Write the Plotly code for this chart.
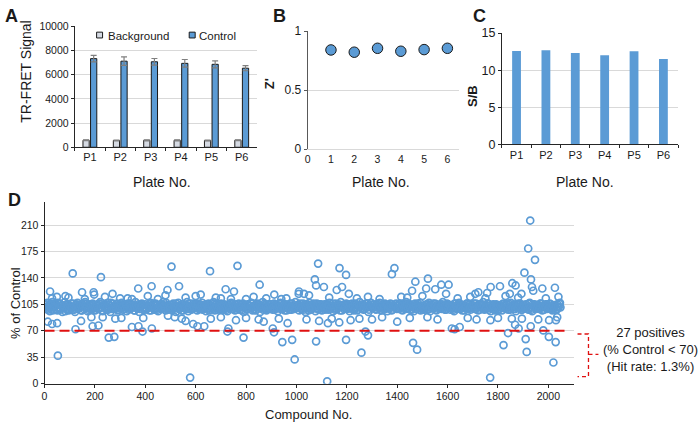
import plotly.graph_objects as go

# ---------------- data ----------------
plates = ["P1", "P2", "P3", "P4", "P5", "P6"]
background = [580, 560, 575, 575, 555, 580]
background_err = [40, 35, 40, 40, 35, 40]
control = [7330, 7120, 7070, 6940, 6860, 6540]
control_err = [270, 350, 270, 320, 290, 210]

plate_no = [1, 2, 3, 4, 5, 6]
z_prime = [0.841, 0.822, 0.855, 0.830, 0.844, 0.855]

s_over_b = [12.6, 12.68, 12.33, 12.02, 12.55, 11.5]

# Panel D: dense band, read as two interleaved samples
# (every 5th compound starting at compound 1, and every 5th starting at compound 3)
band_values_a = [
    104, 99, 107, 101, 96, 103, 108, 98, 102, 105, 97, 100, 106, 103, 95, 101, 108, 99, 104, 97,
    102, 106, 98, 101, 95, 104, 107, 100, 103, 97, 105, 99, 108, 102, 96, 101, 104, 98, 106, 100,
    97, 103, 105, 99, 108, 101, 96, 104, 102, 98, 107, 100, 95, 103, 106, 99, 101, 105, 97, 104,
    100, 107, 98, 102, 104, 96, 106, 101, 99, 105, 103, 97, 108, 100, 102, 95, 104, 106, 98, 101,
    105, 99, 103, 97, 107, 101, 104, 98, 106, 100, 96, 102, 105, 99, 108, 103, 97, 101, 104, 100,
    98, 104, 106, 101, 95, 103, 107, 99, 102, 105, 97, 100, 104, 108, 96, 101, 103, 99, 106, 102,
    103, 97, 101, 105, 99, 107, 100, 104, 96, 102, 106, 98, 103, 101, 108, 97, 105, 100, 102, 99,
    106, 100, 98, 104, 102, 96, 105, 101, 107, 99, 103, 97, 104, 100, 106, 98, 102, 105, 95, 101,
    99, 105, 103, 100, 107, 97, 102, 104, 98, 106, 101, 95, 103, 108, 100, 104, 97, 102, 105, 99,
    102, 98, 106, 101, 104, 96, 100, 107, 103, 99, 105, 101, 97, 104, 102, 106, 98, 100, 103, 108,
    101, 104, 97, 103, 99, 106, 102, 95, 105, 100, 107, 98, 104, 101, 103, 96, 106, 99, 102, 105,
    97, 102, 105, 100, 104, 98, 107, 101, 103, 96, 100, 106, 99, 104, 102, 108, 97, 101, 105, 103,
    104, 100, 96, 103, 106, 99, 101, 105, 97, 102, 108, 100, 104, 98, 103, 106, 101, 95, 102, 107,
    100, 105, 102, 98, 104, 101, 107, 97, 103, 99, 106, 102, 96, 104, 100, 105, 98, 103, 101, 106,
    103, 99, 106, 101, 97, 104, 102, 108, 100, 105, 98, 103, 101, 96, 106, 99, 104, 102, 107, 100,
    98, 103, 101, 105, 99, 107, 96, 102, 104, 100, 106, 97, 103, 101, 105, 99, 108, 102, 98, 104,
    105, 101, 98, 104, 102, 96, 106, 100, 103, 107, 99, 101, 104, 97, 102, 106, 100, 105, 98, 103,
    101, 106, 99, 103, 97, 105, 101, 104, 108, 98, 102, 100, 106, 103, 96, 101, 105, 99, 104, 102,
    99, 104, 102, 97, 106, 100, 103, 105, 98, 101, 107, 103, 99, 104, 96, 102, 106, 100, 103, 98,
    104, 100, 105, 102, 98, 107, 101, 96, 103, 105, 99, 102, 104, 100, 106, 97, 103, 101, 105, 99,
    102, 106, 100, 97, 104, 103, 99, 105, 101, 107,
]
band_values_b = [
    101, 105, 98, 103, 100, 106, 97, 102, 104, 99, 107, 101, 98, 104, 100, 103, 96, 105, 102, 99,
    103, 100, 106, 98, 102, 105, 99, 101, 104, 97, 103, 106, 100, 102, 98, 105, 101, 99, 104, 102,
    100, 104, 99, 106, 101, 97, 103, 105, 100, 102, 98, 104, 107, 99, 101, 103, 100, 106, 98, 102,
    105, 101, 103, 99, 104, 100, 98, 106, 102, 101, 104, 97, 103, 100, 105, 99, 102, 104, 101, 98,
    99, 103, 101, 105, 97, 102, 106, 100, 104, 98, 101, 103, 99, 105, 102, 100, 107, 98, 103, 101,
    104, 98, 102, 100, 106, 101, 99, 103, 97, 105, 102, 100, 104, 99, 101, 106, 98, 103, 100, 105,
    100, 106, 99, 102, 104, 98, 103, 101, 105, 100, 97, 104, 102, 99, 106, 101, 103, 98, 102, 104,
    102, 99, 105, 101, 98, 104, 100, 106, 99, 103, 101, 105, 98, 102, 100, 104, 97, 106, 101, 103,
    98, 104, 100, 103, 106, 99, 102, 97, 105, 101, 104, 100, 103, 98, 106, 102, 99, 101, 105, 100,
    105, 101, 98, 104, 100, 102, 106, 99, 103, 101, 97, 105, 100, 104, 98, 102, 106, 101, 99, 103,
    101, 103, 106, 99, 102, 98, 104, 100, 105, 97, 103, 101, 99, 106, 102, 100, 104, 98, 105, 101,
    103, 100, 98, 105, 101, 104, 99, 102, 106, 100, 98, 103, 101, 105, 97, 104, 102, 99, 101, 106,
    99, 102, 105, 100, 103, 97, 106, 101, 98, 104, 102, 100, 105, 99, 103, 101, 106, 98, 102, 104,
    104, 101, 99, 102, 106, 100, 103, 98, 105, 101, 99, 104, 100, 102, 106, 97, 103, 101, 105, 99,
    100, 105, 102, 98, 104, 101, 99, 106, 100, 103, 105, 98, 102, 101, 104, 99, 106, 100, 97, 103,
    102, 98, 104, 101, 105, 99, 103, 100, 106, 102, 98, 101, 104, 100, 103, 105, 99, 102, 98, 106,
    101, 104, 100, 103, 98, 106, 102, 99, 105, 101, 103, 97, 104, 100, 102, 106, 99, 101, 105, 100,
    103, 99, 106, 101, 102, 98, 105, 100, 104, 99, 101, 106, 98, 103, 100, 104, 102, 97, 105, 101,
    98, 103, 101, 105, 100, 104, 99, 102, 106, 98, 103, 101, 105, 99, 102, 100, 104, 106, 98, 101,
    104, 100, 102, 99, 106, 101, 98, 105, 103, 100, 102, 104, 99, 106, 101, 103, 98, 102, 105, 100,
    101, 105, 99, 103, 100, 104, 98, 102, 106, 101,
]
band_compound_a = [1 + 5 * i for i in range(len(band_values_a))]
band_compound_b = [3 + 5 * i for i in range(len(band_values_b))]

# Panel D: scattered compounds away from the band (compound no., % of control)
outlier_compound = [
    22, 49, 83, 112, 149, 195, 197, 224, 270, 330, 347, 372, 425, 488, 504, 534, 560, 600,
    657, 700, 719, 752, 766, 800, 854, 912, 960, 1009, 1010, 1030, 1073, 1078, 1086, 1109,
    1160, 1171, 1181, 1197, 1208, 1284, 1379, 1389, 1416, 1459, 1472, 1515, 1522, 1551, 1575,
    1594, 1604, 1710, 1722, 1757, 1771, 1808, 1847, 1857, 1870, 1893, 1905, 1920, 1928, 1931,
    1935, 1940, 1947, 1976, 2026,
    30, 95, 160, 240, 300, 410, 450, 480, 620, 680, 740, 830, 880, 940, 1050, 1130, 1240, 1330,
    1440, 1500, 1640, 1690, 1750, 1830, 1880, 1990, 2040,
    53, 255, 277, 389, 578, 726, 790, 911, 944, 983, 993, 1078, 1122, 1197, 1258, 1274, 1284,
    1463, 1479, 1769, 1822, 1840, 1910, 1914, 2002, 2020, 2029,
    13, 30, 50, 123, 145, 186, 191, 214, 231, 281, 305, 347, 373, 392, 426, 490, 517, 545, 560,
    590, 607, 634, 660, 700, 730, 760, 800, 850, 870, 906, 930, 965, 1040, 1090, 1125, 1140,
    1170, 1215, 1250, 1300, 1340, 1400, 1450, 1520, 1560, 1617, 1628, 1648, 1680, 1715, 1770,
    1800, 1855, 1868, 1882, 1895, 1930, 1960, 1980, 2003, 2030, 2035,
]
outlier_value = [
    122, 115, 116, 146, 121, 121, 118, 141, 119, 113, 112, 126, 129, 124, 155, 129, 114, 116,
    149, 113, 125, 122, 156, 112, 131, 118, 113, 119, 122, 119, 138, 130, 159, 128,
    124, 153, 128, 144, 119, 115, 145, 153, 115, 123, 135, 126, 139, 125, 131,
    119, 131, 119, 121, 120, 128, 129, 119, 133, 130, 119, 147, 179, 216, 138,
    128, 123, 164, 126, 127,
    113, 114, 112, 115, 113, 116, 112, 117, 118, 114, 112, 115, 113, 112, 117, 114, 113, 112,
    114, 116, 113, 115, 113, 116, 114, 113, 115,
    37, 61, 62, 69, 8, 69, 61, 68, 55, 58, 32, 56, 3, 58, 41, 69, 64,
    54, 45, 8, 51, 67, 59, 42, 62, 28, 55,
    82, 79, 80, 72, 83, 88, 76, 77, 88, 86, 87, 75, 76, 87, 73, 90, 88, 86, 83,
    79, 76, 76, 86, 88, 73, 84, 87, 85, 82, 73, 86, 80, 85, 83, 80, 86,
    81, 84, 86, 85, 88, 82, 87, 88, 85, 73, 72, 75, 87, 85, 84,
    87, 86, 78, 73, 86, 76, 85, 70.5, 84, 84, 88,
]
cutoff = 70

# ---------------- layout helpers ----------------
W, H = 700, 430


def px(x):
    return x / W


def py(y):
    return 1 - y / H


BLUE = "#5B9BD5"
GREY_BAR = "#D5DAE3"
GRID = "#D9D9D9"
FONT = "Liberation Sans, Arial, sans-serif"

fig = go.Figure()

# Panel A
fig.add_trace(go.Bar(
    x=plates, y=background, name="Background", xaxis="x", yaxis="y",
    marker=dict(color=GREY_BAR, line=dict(color="#1a1a1a", width=1)),
    error_y=dict(type="data", array=background_err, color="#7f7f7f", thickness=1.2, width=3),
    showlegend=False,
))
fig.add_trace(go.Bar(
    x=plates, y=control, name="Control", xaxis="x", yaxis="y",
    marker=dict(color=BLUE, line=dict(color="#1a1a1a", width=1)),
    error_y=dict(type="data", array=control_err, color="#7f7f7f", thickness=1.2, width=3),
    showlegend=False,
))

# Panel B
fig.add_trace(go.Scatter(
    x=plate_no, y=z_prime, mode="markers", xaxis="x2", yaxis="y2",
    marker=dict(size=10.5, color=BLUE, line=dict(color="#1a1a1a", width=1)),
    showlegend=False,
))

# Panel C
fig.add_trace(go.Bar(
    x=plates, y=s_over_b, xaxis="x3", yaxis="y3", width=0.3,
    marker=dict(color=BLUE, line=dict(width=0)), showlegend=False,
))

# Panel D
dmarker = dict(symbol="circle-open", size=7, color=BLUE, line=dict(width=1.7, color=BLUE))
for cx, cy in [(band_compound_a, band_values_a), (band_compound_b, band_values_b),
               (outlier_compound, outlier_value)]:
    fig.add_trace(go.Scatter(
        x=cx, y=cy, mode="markers", xaxis="x4", yaxis="y4",
        marker=dmarker, showlegend=False,
    ))

axis_common = dict(zeroline=False, ticks="outside", ticklen=3, tickcolor="#262626",
                   showline=True, linecolor="#262626", linewidth=1)

fig.update_layout(
    width=W, height=H, margin=dict(l=0, r=0, t=0, b=0),
    paper_bgcolor="white", plot_bgcolor="white",
    font=dict(family=FONT, size=11, color="#1a1a1a"),
    barmode="group", bargap=0.5, bargroupgap=0.18,
    xaxis=dict(domain=[px(72), px(255)], anchor="y", type="category",
               tickson="boundaries", showgrid=False, tickfont=dict(size=11), **axis_common),
    yaxis=dict(domain=[py(145), py(20)], anchor="x", range=[0, 10000], dtick=2000,
               tickformat="d",
               showgrid=True, gridcolor=GRID, tickfont=dict(size=10.5), **axis_common),
    xaxis2=dict(domain=[px(306), px(458)], anchor="y2", range=[0, 6.5], dtick=1,
                showgrid=False, zeroline=False, showline=True, linecolor=GRID,
                ticks="", tickfont=dict(size=10.5)),
    yaxis2=dict(domain=[py(147), py(25)], anchor="x2", range=[0, 1], dtick=0.5,
                showgrid=True, gridcolor=GRID, zeroline=False, showline=True,
                linecolor="#595959", ticks="outside", ticklen=3, tickcolor="#595959",
                tickfont=dict(size=12)),
    xaxis3=dict(domain=[px(501), px(678)], anchor="y3", type="category",
                tickson="boundaries", showgrid=False, tickfont=dict(size=11), **axis_common),
    yaxis3=dict(domain=[py(142), py(27)], anchor="x3", range=[0, 15], dtick=5,
                showgrid=True, gridcolor=GRID, tickfont=dict(size=12.5), **axis_common),
    xaxis4=dict(domain=[px(41.7), px(573)], anchor="y4", range=[0, 2100], dtick=200,
                showgrid=False, tickfont=dict(size=10.5), **axis_common),
    yaxis4=dict(domain=[py(389.3), py(202)], anchor="x4", range=[0, 240], dtick=35, tick0=0,
                showgrid=True, gridcolor=GRID, tickfont=dict(size=10.5), **axis_common),
)

# cut-off line and bracket
shapes = [
    dict(type="line", xref="x4", yref="y4", x0=0, x1=2070, y0=cutoff, y1=cutoff,
         line=dict(color="#E01010", width=2, dash="10px,5px")),
]
bracket = (f"M {px(577)},{py(338)} L {px(588)},{py(338)} L {px(588)},{py(382)} "
           f"L {px(577)},{py(382)} M {px(588)},{py(359)} L {px(598)},{py(359)}")
shapes.append(dict(type="path", xref="paper", yref="paper", path=bracket,
                   line=dict(color="#E01010", width=1.3, dash="4px,3px")))
# legend squares for panel A
for x0, col in [(94, GREY_BAR), (187, BLUE)]:
    shapes.append(dict(type="rect", xref="paper", yref="paper",
                       x0=px(x0), x1=px(x0 + 6), y0=py(32), y1=py(26),
                       fillcolor=col, line=dict(color="#1a1a1a", width=1)))
fig.update_layout(shapes=shapes)


def ann(text, x, y, size=13, bold=False, angle=0, xanchor="center"):
    if bold:
        text = f"<b>{text}</b>"
    return dict(text=text, x=px(x), y=py(y), xref="paper", yref="paper", showarrow=False,
                xanchor=xanchor, yanchor="middle", textangle=angle,
                font=dict(family=FONT, size=size, color="#1a1a1a"))


annotations = [
    ann("A", 9, 9, 18, True), ann("B", 278, 9, 18, True),
    ann("C", 479, 9, 18, True), ann("D", 12, 200, 18, True),
    ann("TR-FRET Signal", 23, 67, 14, angle=-90),
    ann("Plate No.", 160, 181, 14), ann("Plate No.", 380, 181, 14), ann("Plate No.", 585, 181, 14),
    ann("Z'", 268, 79, 13, True, angle=-90),
    ann("S/B", 471, 92, 13, True, angle=-90),
    ann("% of Control", 12, 306, 13, angle=-90),
    ann("Compound No.", 307, 421, 13),
    ann("Background", 103, 29.5, 11.5, xanchor="left"),
    ann("Control", 195, 29.5, 11.5, xanchor="left"),
    ann("27 positives<br>(% Control < 70)<br>(Hit rate: 1.3%)", 650, 354, 13),
]
fig.update_layout(annotations=annotations)

fig.write_html("out.html", config={"displayModeBar": False},
               post_script="document.body.style.margin='0';")
